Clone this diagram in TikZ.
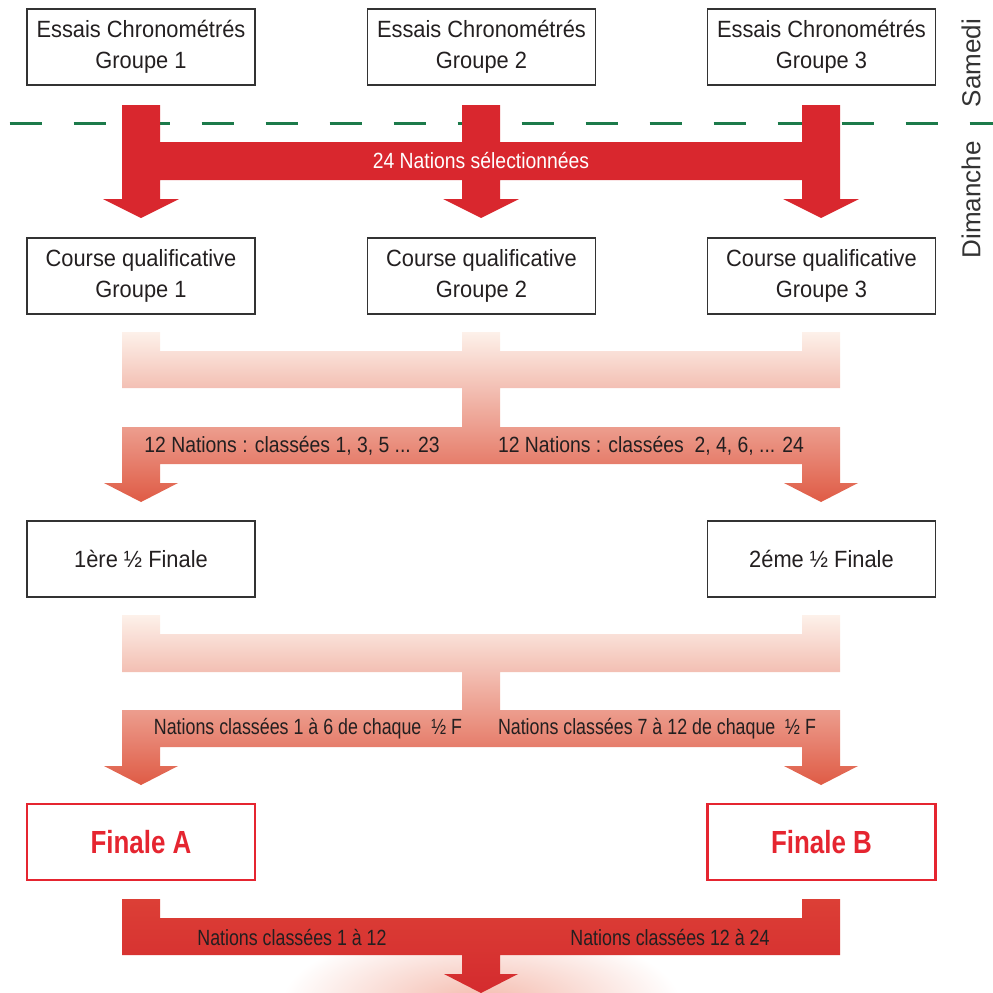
\documentclass[tikz,border=0pt]{standalone}
\usepackage{fontspec}
\setmainfont{Liberation Sans}
\newfontfamily\boxfont{Liberation Sans}[FakeStretch=0.93]
\newfontfamily\narrowfont{Liberation Sans}[FakeStretch=0.88]
\newfontfamily\tightfont{Liberation Sans}[FakeStretch=0.81]
\newfontfamily\finalefont{Liberation Sans}[FakeStretch=0.81]

\definecolor{boxgray}{HTML}{333333}
\definecolor{txtgray}{HTML}{231F20}
\definecolor{arrowred}{HTML}{D9272E}
\definecolor{finalred}{HTML}{E52530}
\definecolor{dashgreen}{HTML}{1C7A4A}
\definecolor{peachtop}{HTML}{FDF1EA}
\definecolor{salmonbot}{HTML}{DF5B45}
\definecolor{redtop}{HTML}{DC3F36}
\definecolor{redbot}{HTML}{D42B2E}
\definecolor{glowred}{HTML}{F4B8AA}

\tikzset{
  box/.style={draw=boxgray, line width=1.3pt, minimum width=228pt, minimum height=76pt,
    inner sep=0pt, align=center, text=txtgray, font=\boxfont\fontsize{23.5}{31}\selectfont},
  finalebox/.style={box, draw=finalred, line width=2.5pt, text=finalred,
    font=\finalefont\bfseries\fontsize{32}{36}\selectfont},
  lbl/.style={inner sep=0pt, text=txtgray, font=\narrowfont\fontsize{22}{26}\selectfont},
  tightlbl/.style={lbl, font=\tightfont\fontsize{22}{26}\selectfont},
  day/.style={inner sep=0pt, rotate=90, text=boxgray, font=\fontsize{26}{30}\selectfont}
}

\begin{document}
\begin{tikzpicture}[x=1pt, y=-1pt]
		\useasboundingbox (0,0) rectangle (993,993);
		\clip (0,0) rectangle (993,993);

		\node[box] (ess1) at (141,47) {Essais Chronométrés\\Groupe 1};
		\node[box] (ess2) at (481.5,47) {Essais Chronométrés\\Groupe 2};
		\node[box] (ess3) at (821.5,47) {Essais Chronométrés\\Groupe 3};

		\draw[dashgreen, line width=3pt, dash pattern=on 32pt off 32pt] (9.5,123) -- (993,123);
		\node[day] (sam) at (971,63) {Samedi};
		\node[day] (dim) at (971,200) {Dimanche};

		\fill[arrowred] (122,105) -- (160,105) -- (160,142) -- (462,142) -- (462,105) -- (500,105) -- (500,142) -- (802,142) -- (802,105) -- (840,105) -- (840,199) -- (859,199) -- (821,218) -- (783,199) -- (802,199) -- (802,180) -- (500,180) -- (500,199) -- (519,199) -- (481,218) -- (443,199) -- (462,199) -- (462,180) -- (160,180) -- (160,199) -- (179,199) -- (141,218) -- (103,199) -- (122,199) -- cycle;
		\node[lbl, text=white] (sel) at (481,161) {24 Nations sélectionnées};

		\node[box] (qual1) at (141,276) {Course qualificative\\Groupe 1};
		\node[box] (qual2) at (481.5,276) {Course qualificative\\Groupe 2};
		\node[box] (qual3) at (821.5,276) {Course qualificative\\Groupe 3};

		\shade[top color=peachtop, bottom color=salmonbot] (122,332) -- (160,332) -- (160,351) -- (462,351) -- (462,332) -- (500,332) -- (500,351) -- (802,351) -- (802,332) -- (840,332) -- (840,388) -- (500,388) -- (500,427) -- (840,427) -- (840,483) -- (858,483) -- (821,502) -- (784,483) -- (802,483) -- (802,464) -- (160,464) -- (160,483) -- (178,483) -- (141,502) -- (104,483) -- (122,483) -- (122,427) -- (462,427) -- (462,388) -- (122,388) -- cycle;
		\node[lbl] (odd) at (292,446) {12 Nations : classées 1, 3, 5 ... 23};
		\node[lbl] (even) at (651,446) {12 Nations : classées\ \ 2, 4, 6, ... 24};

		\node[box] (demi1) at (141,559) {1ère ½ Finale};
		\node[box] (demi2) at (821.5,559) {2éme ½ Finale};

		\shade[top color=peachtop, bottom color=salmonbot] (122,615) -- (160,615) -- (160,634) -- (802,634) -- (802,615) -- (840,615) -- (840,672) -- (500,672) -- (500,710) -- (840,710) -- (840,766) -- (858,766) -- (821,785) -- (784,766) -- (802,766) -- (802,747) -- (160,747) -- (160,766) -- (178,766) -- (141,785) -- (104,766) -- (122,766) -- (122,710) -- (462,710) -- (462,672) -- (122,672) -- cycle;
		\node[tightlbl] (topsix) at (308,729) {Nations classées 1 à 6 de chaque\ \ ½ F};
		\node[tightlbl] (lastsix) at (657,729) {Nations classées 7 à 12 de chaque\ \ ½ F};

		\node[finalebox] (finA) at (141,842) {Finale A};
		\node[finalebox] (finB) at (821.5,842) {Finale B};

		\shade[inner color=glowred, outer color=white] (481,1005) ellipse [x radius=200, y radius=80];
		\shade[top color=redtop, bottom color=redbot] (122,899) -- (160,899) -- (160,918) -- (802,918) -- (802,899) -- (840,899) -- (840,955) -- (500,955) -- (500,974) -- (518,974) -- (481,993) -- (444,974) -- (462,974) -- (462,955) -- (122,955) -- cycle;
		\node[tightlbl] (first) at (292,937) {Nations classées 1 à 12};
		\node[tightlbl] (second) at (670,937) {Nations classées 12 à 24};
	\end{tikzpicture}
\end{document}
